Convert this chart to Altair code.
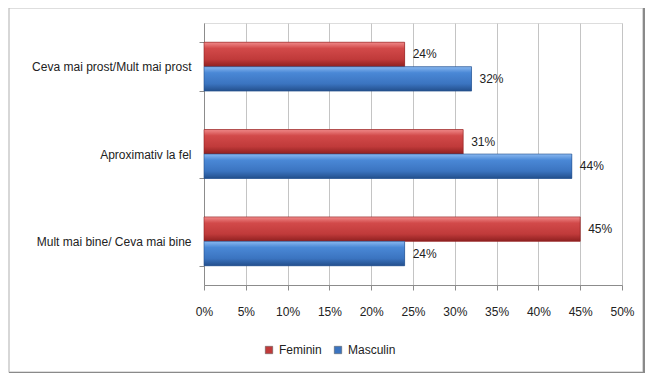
import altair as alt
import pandas as pd

categories = ["Ceva mai prost/Mult mai prost", "Aproximativ la fel", "Mult mai bine/ Ceva mai bine"]
series = ["Feminin", "Masculin"]
feminin = [0.24, 0.31, 0.45]
masculin = [0.32, 0.44, 0.24]
x_ticks = [0, 0.05, 0.10, 0.15, 0.20, 0.25, 0.30, 0.35, 0.40, 0.45, 0.50]

rows = []
for c, f, m in zip(categories, feminin, masculin):
    rows.append({"cat": c, "sex": "Feminin", "v": f})
    rows.append({"cat": c, "sex": "Masculin", "v": m})
df = pd.DataFrame(rows)

FONT = "Liberation Sans"
FS = 12

red_grad = alt.LinearGradient(
    gradient="linear", x1=0, y1=0, x2=0, y2=1,
    stops=[alt.GradientStop(color="#f08a8a", offset=0),
           alt.GradientStop(color="#d24a4a", offset=0.25),
           alt.GradientStop(color="#c03a3a", offset=0.7),
           alt.GradientStop(color="#8e2020", offset=1)])
blue_grad = alt.LinearGradient(
    gradient="linear", x1=0, y1=0, x2=0, y2=1,
    stops=[alt.GradientStop(color="#8ab8f0", offset=0),
           alt.GradientStop(color="#4a88d6", offset=0.25),
           alt.GradientStop(color="#3b74c0", offset=0.7),
           alt.GradientStop(color="#234f8c", offset=1)])

y_enc = alt.Y("cat:N", sort=categories,
              scale=alt.Scale(domain=categories, paddingInner=0.44, paddingOuter=0.22),
              axis=alt.Axis(title=None, labelFont=FONT, labelFontSize=FS, labelColor="#222",
                            domainColor="#8c8c8c", tickColor="#8c8c8c", tickSize=5,
                            tickBand="extent", labelPadding=8, grid=False, labelLimit=300))
x_enc = alt.X("v:Q", scale=alt.Scale(domain=[0, 0.5], nice=False),
              axis=alt.Axis(title=None, values=x_ticks, format=".0%", labelFont=FONT,
                            labelFontSize=FS, labelColor="#222", domainColor="#8c8c8c",
                            tickColor="#8c8c8c", tickSize=5, labelPadding=16,
                            labelFlush=False, grid=True, gridColor="#c4c4c4"))
yoff = alt.YOffset("sex:N", scale=alt.Scale(domain=series, paddingInner=0, paddingOuter=0))

base = alt.Chart(df)

legend_bars = base.mark_bar().encode(
    x=x_enc, y=y_enc, yOffset=yoff,
    color=alt.Color("sex:N", scale=alt.Scale(domain=series, range=["#c03a3a", "#3b74c0"]),
                    legend=alt.Legend(title=None, orient="none", direction="horizontal",
                                      legendX=59, legendY=321, symbolType="square",
                                      symbolSize=55, labelFont=FONT, labelFontSize=FS,
                                      labelColor="#222", columnPadding=10, labelOffset=4,
                                      symbolStrokeColor="#555", symbolStrokeWidth=0.5)))

fem_bars = base.transform_filter(alt.datum.sex == "Feminin").mark_bar(
    color=red_grad, stroke="#8e2020", strokeWidth=0.6).encode(x=x_enc, y=y_enc, yOffset=yoff)
mas_bars = base.transform_filter(alt.datum.sex == "Masculin").mark_bar(
    color=blue_grad, stroke="#234f8c", strokeWidth=0.6).encode(x=x_enc, y=y_enc, yOffset=yoff)

labels = base.mark_text(align="left", baseline="middle", dx=8, font=FONT, fontSize=FS,
                        color="#222").encode(
    x=x_enc, y=y_enc, yOffset=yoff, text=alt.Text("v:Q", format=".0%"))

one = pd.DataFrame({"a": [0]})
border = alt.Chart(one).mark_rect(
    fill=None, stroke="#bdbdbd", strokeWidth=1.2, clip=False).encode(
    x=alt.value(-195), x2=alt.value(439), y=alt.value(-15), y2=alt.value(349))
shadow_r = alt.Chart(one).mark_rule(color="#8a8a8a", strokeWidth=2, clip=False).encode(
    x=alt.value(440), y=alt.value(-15), y2=alt.value(350))
shadow_b = alt.Chart(one).mark_rule(color="#8a8a8a", strokeWidth=2, clip=False).encode(
    x=alt.value(-195), x2=alt.value(441), y=alt.value(350))

chart = alt.layer(legend_bars, fem_bars, mas_bars, labels, border, shadow_r, shadow_b).properties(
    width=418, height=262,
    autosize=alt.AutoSizeParams(type="none"),
    padding={"left": 196, "top": 15, "right": 24, "bottom": 88},
).configure_view(stroke=None).configure(background="white")

chart.save("out.html", embed_options={"renderer": "svg", "actions": False})
